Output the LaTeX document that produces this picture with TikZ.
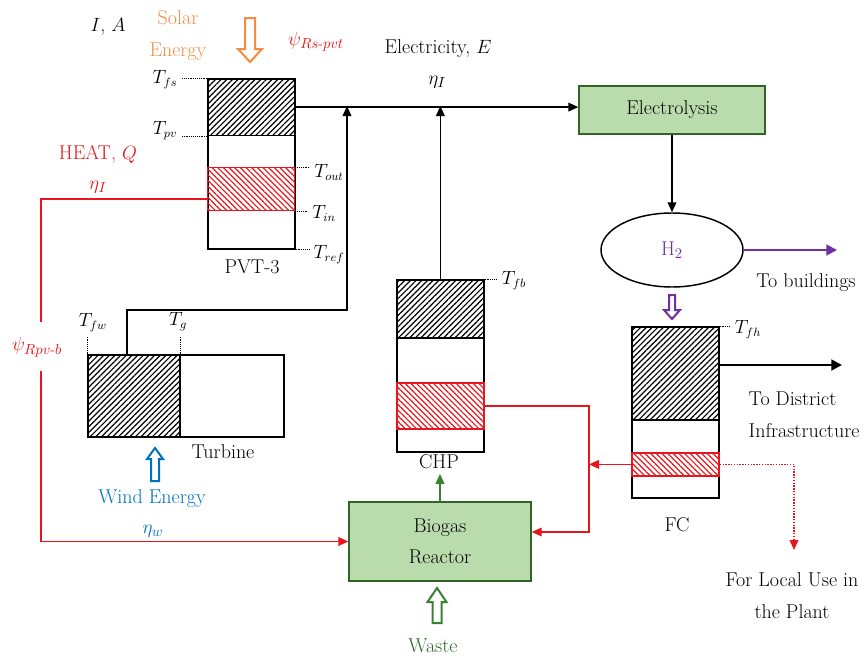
\documentclass[tikz,border=0pt]{standalone}
\usepackage{amsmath}
\usetikzlibrary{arrows.meta,positioning,shapes.geometric,calc,patterns.meta}
\definecolor{hxred}{RGB}{232,22,28}
\definecolor{hxorange}{RGB}{246,140,66}
\definecolor{hxblue}{RGB}{0,112,192}
\definecolor{hxpurple}{RGB}{112,48,160}
\definecolor{hxgreen}{RGB}{56,130,50}
\definecolor{hxfill}{RGB}{186,220,172}
\definecolor{hxedge}{RGB}{50,100,40}
\newcommand{\pxl}{0.75pt}

\begin{document}
\begin{tikzpicture}[x=0.75pt,y=-0.75pt,font=\fontsize{15}{17}\selectfont,
  unit/.style={draw,line width=1.3pt,minimum width=87*\pxl,anchor=north west,inner sep=0pt},
  pvlayer/.style={unit,pattern={Lines[angle=45,distance=3pt,line width=0.9pt]}},
  thlayer/.style={unit,draw=hxred,pattern={Lines[angle=-45,distance=3pt,line width=0.9pt]},pattern color=hxred},
  procbox/.style={draw=hxedge,fill=hxfill,line width=1pt,align=center},
  tlab/.style={font=\fontsize{13.5}{15}\selectfont},
  lead/.style={densely dotted,thin},
  flow/.style={line width=1.1pt,-{Triangle[length=7.5pt,width=6.5pt]}},
  heat/.style={hxred,line width=1.1pt},
  pics/hollowarrow/.style n args={4}{code={
    \draw[line width=1.5pt] (-#2,0) -- (#2,0) -- (#2,#1-#4) -- (#3,#1-#4) -- (0,#1)
      -- (-#3,#1-#4) -- (-#2,#1-#4) -- cycle;}}]
  \useasboundingbox (0,0) rectangle (867,657);

  %% PVT-3 collector
  \node[unit,minimum height=170*\pxl] (pvt) at (207,78) {};
  \node[pvlayer,minimum height=57*\pxl] (pvtpv) at (207,78) {};
  \node[thlayer,minimum height=43*\pxl] (pvtth) at (207,167) {};
  \node (pvtname) at (252,267) {PVT-3};
  \node[tlab] (tfs) at (165,80) {$T_{fs}$};
  \node[tlab] (tpv) at (165,131) {$T_{pv}$};
  \node[tlab] (tout) at (329,172) {$T_{out}$};
  \node[tlab] (tin) at (324,213) {$T_{in}$};
  \node[tlab] (tref) at (329,255) {$T_{ref}$};
  \draw[lead] (tfs.east |- pvt.north west) -- (pvt.north west);
  \draw[lead] (tpv.east |- pvtpv.south west) -- (pvtpv.south west);
  \draw[lead] (pvtth.north east) -- (tout.west |- pvtth.north east);
  \draw[lead] (pvtth.south east) -- (tin.west |- pvtth.south east);
  \draw[lead] (pvt.south east) -- (tref.west |- pvt.south east);

  %% Solar input
  \pic[hxorange] at (250,18) {hollowarrow={44}{5}{12}{13}};
  \node[text=hxorange,align=center,font=\fontsize{15}{24}\selectfont] (solar) at (178,36) {Solar\\Energy};
  \node (ia) at (108,27) {$I$, $A$};
  \node[text=hxred] (psirs) at (316,42) {$\psi_{Rs\text{-}pvt}$};
  \node (elec) at (438,49) {Electricity, $E$};
  \node (etae) at (437,82) {$\eta_I$};
  \node[text=hxred] (heatq) at (98,154) {HEAT, $Q$};
  \node[text=hxred] (etaq) at (98,187) {$\eta_I$};

  %% Electrolysis and hydrogen
  \node[procbox,minimum width=186*\pxl,minimum height=48*\pxl] (electro) at (672,110) {Electrolysis};
  \coordinate (ejoin) at (347,106);
  \draw[flow] (pvtpv.east) -- (pvtpv.east -| electro.west);
  \node[draw,ellipse,line width=1.1pt,minimum width=142*\pxl,minimum height=74*\pxl,text=hxpurple] (h2) at (672,250) {H$_2$};
  \draw[flow] (electro) -- (h2);
  \coordinate (bldg) at (837,250);
  \draw[hxpurple,line width=2.2pt,-{Triangle[length=8pt,width=8pt]}] (h2.east) -- (bldg);
  \node (tobldg) at (806,283) {To buildings};
  \pic[hxpurple] at (672,295) {hollowarrow={24}{3}{8}{9}};

  %% Wind turbine
  \node[unit,minimum width=196*\pxl,minimum height=82*\pxl] (turb) at (87,354) {};
  \node[pvlayer,minimum width=92*\pxl,minimum height=82*\pxl] (turbpv) at (87,354) {};
  \node (turbname) at (223,452) {Turbine};
  \node[tlab] (tfw) at (93,323) {$T_{fw}$};
  \node[tlab] (tg) at (178,322) {$T_g$};
  \draw[lead] (turb.north west) -- (tfw.south -| turb.north west);
  \draw[lead] (turbpv.north east) -- (tg.south -| turbpv.north east);
  \draw[flow] ([xshift=30pt]turbpv.north west) -- ++(0,-44) -| (ejoin);
  \pic[hxblue,rotate=180] at (155,481) {hollowarrow={33}{4}{8}{11}};
  \node[text=hxblue] (wind) at (152,499) {Wind Energy};
  \node[text=hxblue] (etaw) at (153,531) {$\eta_w$};

  %% CHP unit
  \node[unit,minimum height=172*\pxl] (chp) at (396,279) {};
  \node[pvlayer,minimum height=58*\pxl] (chppv) at (396,279) {};
  \node[thlayer,minimum height=46*\pxl] (chpth) at (396,382) {};
  \node (chpname) at (439,462) {CHP};
  \node[tlab] (tfb) at (514,281) {$T_{fb}$};
  \draw[lead] (chp.north east) -- (tfb.west |- chp.north east);
  \draw[flow] (chp.north) -- (chp.north |- ejoin);

  %% Fuel cell
  \node[unit,minimum height=171*\pxl] (fc) at (631,326) {};
  \node[pvlayer,minimum height=93*\pxl] (fcpv) at (631,326) {};
  \node[thlayer,minimum height=23*\pxl] (fcth) at (631,452) {};
  \node (fcname) at (677,525) {FC};
  \node[tlab] (tfh) at (748,330) {$T_{fh}$};
  \draw[lead] (fc.north east) -- (tfh.west |- fc.north east);
  \coordinate (distr) at (842,365);
  \draw[line width=2.2pt,-{Triangle[length=8pt,width=8pt]}] (fcpv.east |- distr) -- (distr);
  \node[anchor=west,align=left,font=\fontsize{15}{24}\selectfont] (todistr) at (744,415) {To District\\Infrastructure};
  \coordinate (local) at (794,550);
  \draw[hxred,densely dotted,line width=1.1pt,-{Triangle[length=7.5pt,width=6.5pt]}] (fcth.east) -| (local);
  \node[align=center,font=\fontsize{15}{24}\selectfont] (localuse) at (792,596) {For Local Use in\\the Plant};

  %% Biogas reactor
  \node[procbox,minimum width=182*\pxl,minimum height=79*\pxl,font=\fontsize{15}{23}\selectfont] (bio) at (440,541.5) {Biogas\\Reactor};
  \draw[hxgreen,line width=1.5pt,-{Triangle[length=7.5pt,width=6.5pt]}] (bio.north) -- (bio.north |- chpname.south);
  \pic[hxgreen,rotate=180] at (437,623) {hollowarrow={35}{4.5}{9.5}{14}};
  \node[text=hxgreen!80!black] (waste) at (433,646) {Waste};

  %% Heat recovery lines
  \coordinate (rjoin) at (589,532);
  \draw[heat,-{Triangle[length=7.5pt,width=6.5pt]}] (chpth.east) -| (rjoin) -- (rjoin -| bio.east);
  \draw[heat,-{Triangle[length=7.5pt,width=6.5pt]}] (fcth.west) -- (fcth.west -| rjoin);
  \node[text=hxred] (psirpv) at (37,347) {$\psi_{Rpv\text{-}b}$};
  \coordinate (lftop) at (41,322);
  \coordinate (lfbot) at (41,371);
  \draw[heat] ([yshift=-7.5pt]pvtth.west) -| (lftop);
  \draw[heat,-{Triangle[length=7.5pt,width=6.5pt]}] (lfbot) |- (bio.west);
\end{tikzpicture}
\end{document}
